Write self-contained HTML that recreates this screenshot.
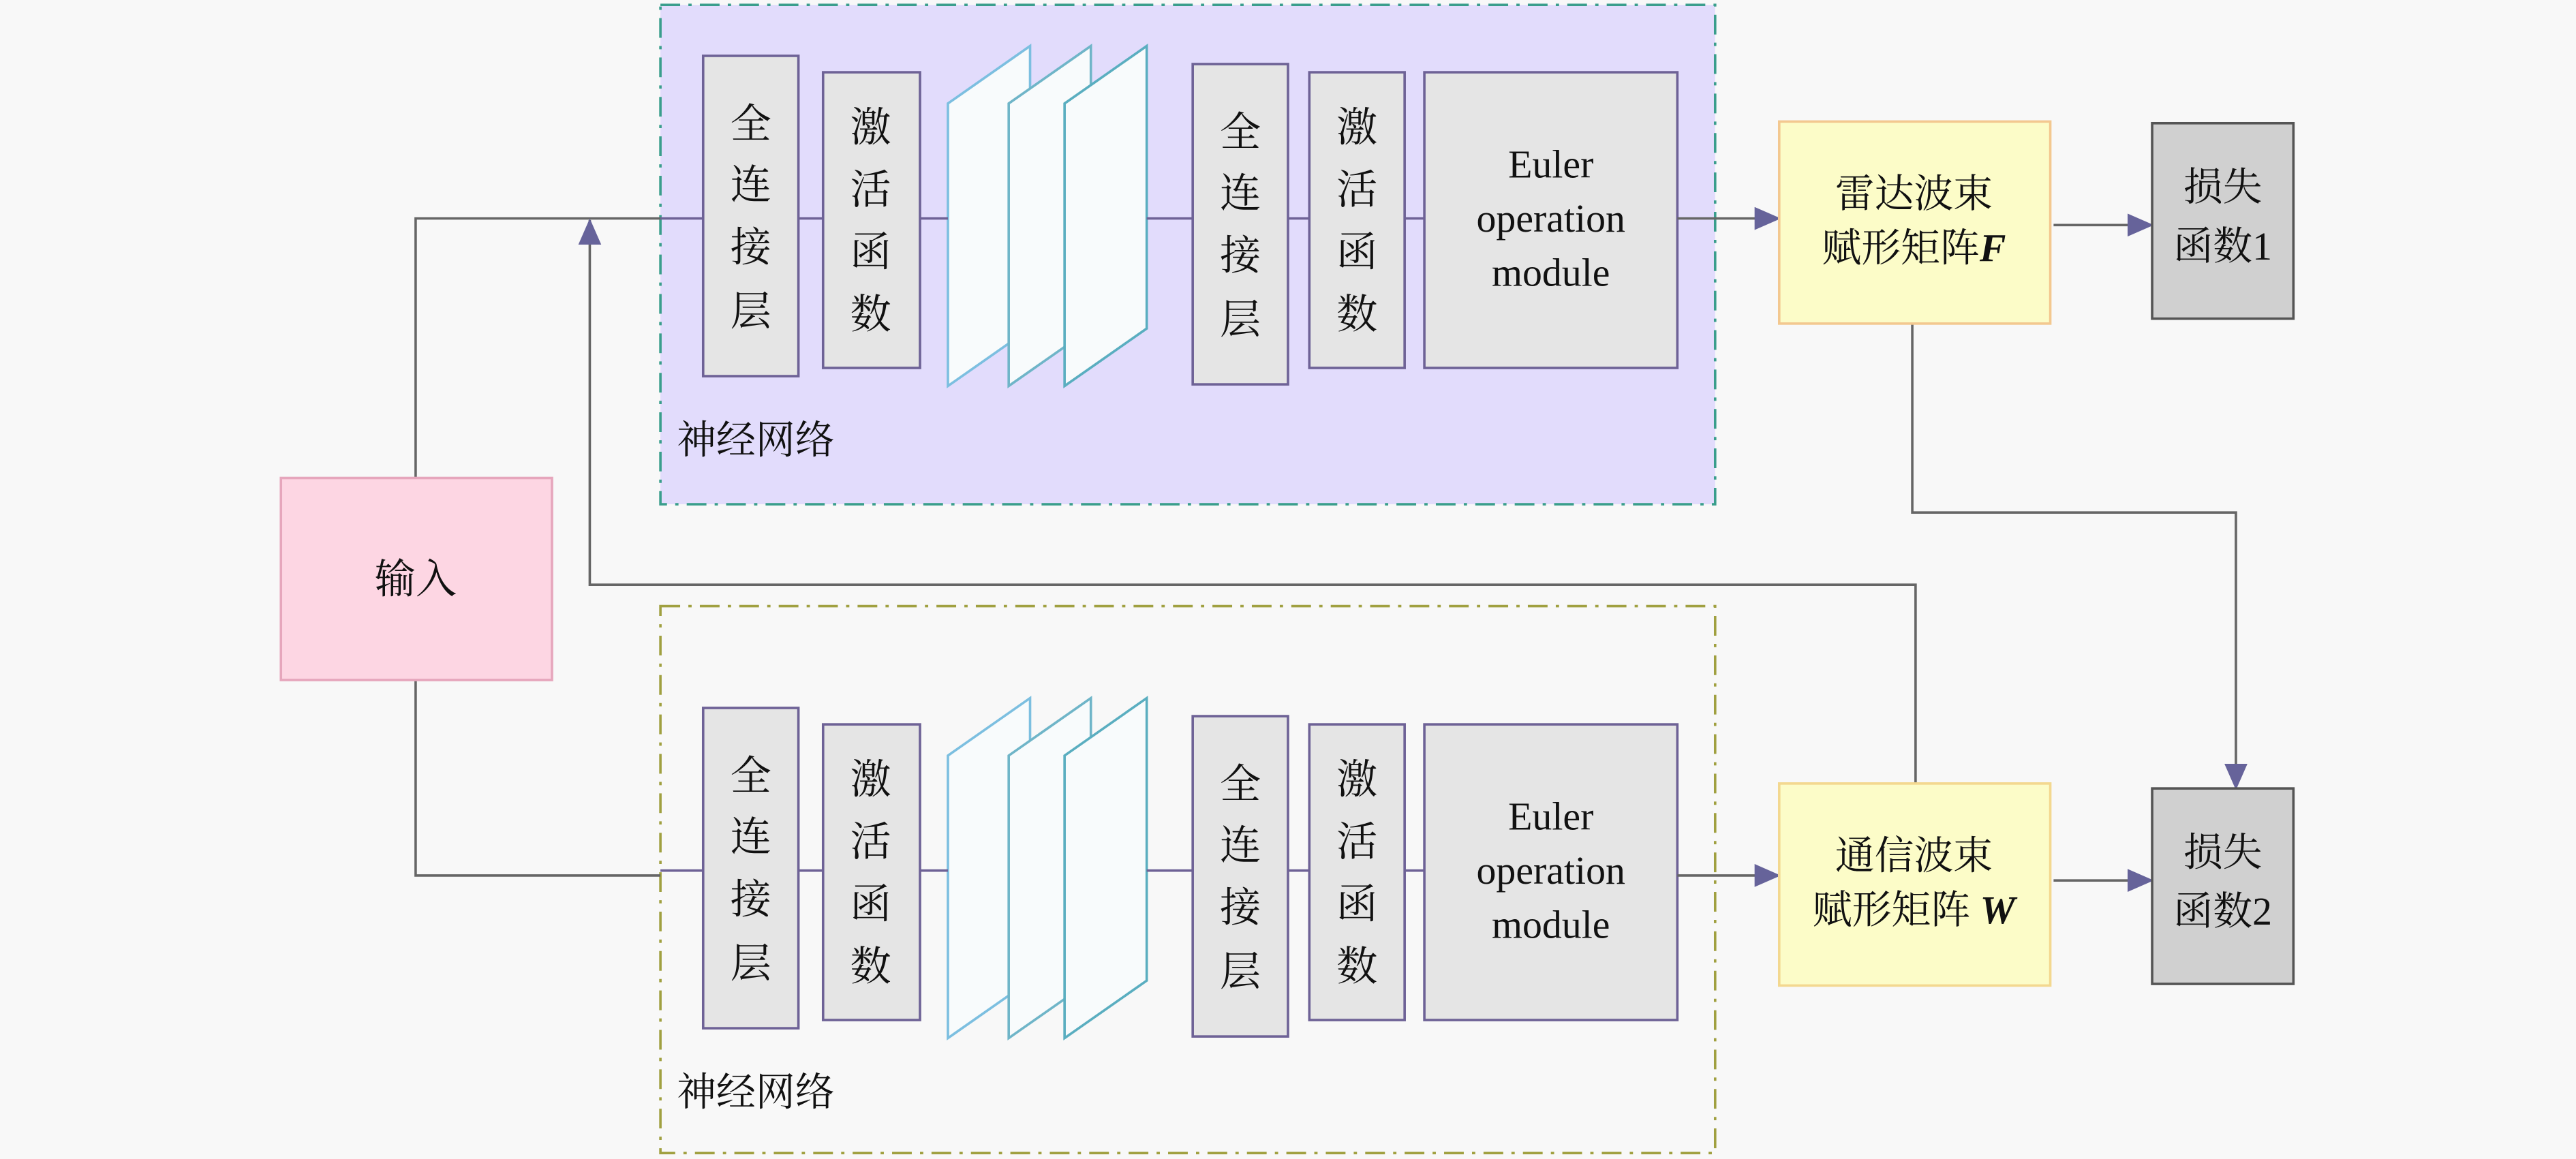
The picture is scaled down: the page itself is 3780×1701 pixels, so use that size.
<!DOCTYPE html>
<html><head><meta charset="utf-8"><style>
html,body{margin:0;padding:0;background:#f8f8f8;}
svg{display:block;}
text{font-family:"Liberation Serif","Noto Serif CJK SC",serif;fill:#111;}
</style></head><body>
<svg width="3780" height="1701" viewBox="0 0 1568 705.6" xmlns="http://www.w3.org/2000/svg">
<defs>
<marker id="ar" markerWidth="16" markerHeight="14" refX="15" refY="7" orient="auto" markerUnits="userSpaceOnUse">
<path d="M0,0 L16,7 L0,14Z" fill="#66639a"/></marker>
<g id="row">
 <rect x="428" y="34" width="58" height="195" fill="#e5e5e5" stroke="#6e6296" stroke-width="1.5"/>
 <rect x="501" y="44" width="59" height="180" fill="#e5e5e5" stroke="#6e6296" stroke-width="1.5"/>
 <polygon points="577,63 627,28 627,200 577,235" fill="#f8fbfc" stroke="#7cbfe0" stroke-width="1.5"/>
 <polygon points="614,63 664,28 664,200 614,235" fill="#f8fbfc" stroke="#6fb5c8" stroke-width="1.5"/>
 <polygon points="648,63 698,28 698,200 648,235" fill="#f8fbfc" stroke="#5aaec0" stroke-width="1.5"/>
 <rect x="726" y="39" width="58" height="195" fill="#e5e5e5" stroke="#6e6296" stroke-width="1.5"/>
 <rect x="797" y="44" width="58" height="180" fill="#e5e5e5" stroke="#6e6296" stroke-width="1.5"/>
 <rect x="867" y="44" width="154" height="180" fill="#e5e5e5" stroke="#6e6296" stroke-width="1.5"/>
 <g stroke="#6e6296" stroke-width="1.5">
  <line x1="402" y1="133" x2="428" y2="133"/><line x1="486" y1="133" x2="501" y2="133"/>
  <line x1="560" y1="133" x2="577" y2="133"/><line x1="698" y1="133" x2="726" y2="133"/>
  <line x1="784" y1="133" x2="797" y2="133"/><line x1="855" y1="133" x2="867" y2="133"/>
 </g>
 <g font-size="25" text-anchor="middle">
  <text x="457" y="84">全</text><text x="457" y="121">连</text><text x="457" y="159">接</text><text x="457" y="198">层</text>
  <text x="530" y="86">激</text><text x="530" y="124">活</text><text x="530" y="162">函</text><text x="530" y="200">数</text>
  <text x="755" y="89">全</text><text x="755" y="126">连</text><text x="755" y="164">接</text><text x="755" y="203">层</text>
  <text x="826" y="86">激</text><text x="826" y="124">活</text><text x="826" y="162">函</text><text x="826" y="200">数</text>
  <text x="944" y="108" font-size="24">Euler</text><text x="944" y="141" font-size="24">operation</text><text x="944" y="174" font-size="24">module</text>
 </g>
 <text x="412" y="276" font-size="24">神经网络</text>
</g>
</defs>
<rect width="1568" height="705.6" fill="#f8f8f8"/>
<rect x="402" y="3" width="642" height="304" fill="#e2dcfc" stroke="#3a9e8c" stroke-width="1.5" stroke-dasharray="12,5,2,5"/>
<rect x="402" y="369" width="642" height="333" fill="none" stroke="#a0a040" stroke-width="1.5" stroke-dasharray="12,5,2,5"/>
<use href="#row"/>
<use href="#row" transform="translate(0,397)"/>
<g stroke="#666" stroke-width="1.5" fill="none">
 <polyline points="253,291 253,133 402,133"/>
 <polyline points="253,414 253,533 402,533"/>
 <line x1="1021" y1="133" x2="1083" y2="133" marker-end="url(#ar)"/>
 <line x1="1021" y1="533" x2="1083" y2="533" marker-end="url(#ar)"/>
 <line x1="1250" y1="137" x2="1310" y2="137" marker-end="url(#ar)"/>
 <line x1="1250" y1="536" x2="1310" y2="536" marker-end="url(#ar)"/>
 <polyline points="1164,197 1164,312 1361,312 1361,480" marker-end="url(#ar)"/>
 <polyline points="1166,477 1166,356 359,356 359,134" marker-end="url(#ar)"/>
</g>
<rect x="171" y="291" width="165" height="123" fill="#fdd6e3" stroke="#e6a6bc" stroke-width="1.5"/>
<text x="253" y="361" font-size="25" text-anchor="middle">输入</text>
<rect x="1083" y="74" width="165" height="123" fill="#fcfcc8" stroke="#f3c890" stroke-width="1.5"/>
<text x="1165" y="126" font-size="24" text-anchor="middle">雷达波束</text>
<text x="1165" y="159" font-size="24" text-anchor="middle">赋形矩阵<tspan font-weight="bold" font-style="italic">F</tspan></text>
<rect x="1083" y="477" width="165" height="123" fill="#fcfcc8" stroke="#f3d890" stroke-width="1.5"/>
<text x="1165" y="529" font-size="24" text-anchor="middle">通信波束</text>
<text x="1165" y="562" font-size="24" text-anchor="middle">赋形矩阵 <tspan font-weight="bold" font-style="italic">W</tspan></text>
<rect x="1310" y="75" width="86" height="119" fill="#d0d0d0" stroke="#555" stroke-width="1.5"/>
<text x="1353" y="122" font-size="24" text-anchor="middle">损失</text>
<text x="1353" y="158" font-size="24" text-anchor="middle">函数1</text>
<rect x="1310" y="480" width="86" height="119" fill="#d0d0d0" stroke="#555" stroke-width="1.5"/>
<text x="1353" y="527" font-size="24" text-anchor="middle">损失</text>
<text x="1353" y="563" font-size="24" text-anchor="middle">函数2</text>
</svg>
</body></html>
